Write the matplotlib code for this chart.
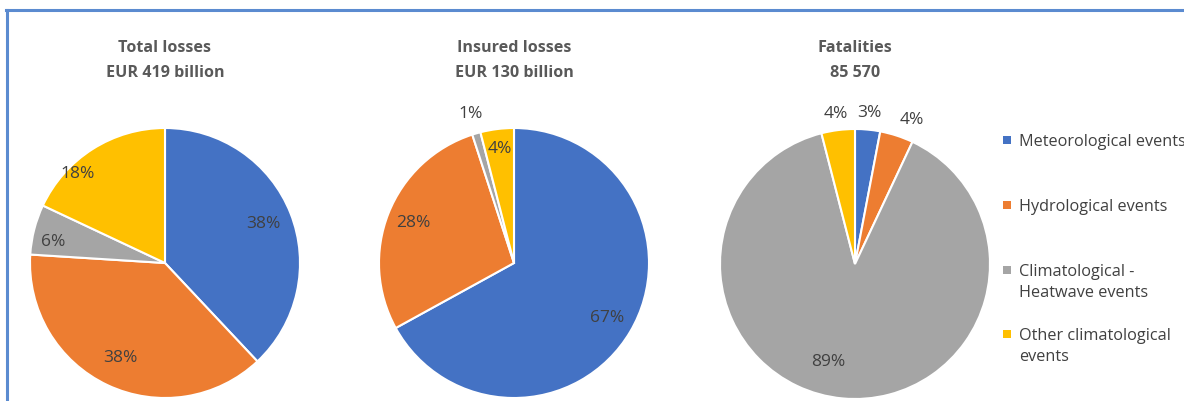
import numpy as np
import matplotlib
matplotlib.use("Agg")
import matplotlib.pyplot as plt
from matplotlib.patches import Rectangle
from matplotlib.lines import Line2D

plt.rcParams['font.family'] = ['Open Sans', 'DejaVu Sans']

categories = ["Meteorological events", "Hydrological events",
              "Climatological -\nHeatwave events", "Other climatological\nevents"]
colors = ["#4472C4", "#ED7D31", "#A5A5A5", "#FFC000"]

titles = ["Total losses\nEUR 419 billion", "Insured losses\nEUR 130 billion", "Fatalities\n85 570"]
total_losses = [38, 38, 6, 18]
insured_losses = [67, 28, 1, 4]
fatalities = [3, 4, 89, 4]
series = [total_losses, insured_losses, fatalities]

# label radial distances (fraction of radius) and angle nudges, styling only
label_dist = [[0.78, 0.78, 0.84, 0.92],
              [0.80, 0.80, 1.15, 0.85],
              [1.12, 1.15, 0.75, 1.12]]
label_angle_offset = [[0, 0, 3.5, 12],
                      [0, 0, 0, 0],
                      [0, -3.5, -10, 0]]

W, H = 1184, 401
fig = plt.figure(figsize=(W / 100, H / 100), dpi=100)
fig.patch.set_facecolor("white")

centers = [(165, 263), (514, 263), (855, 264)]
R = 135
title_y = [48, 73]
txt_col = "#404040"

for i, (vals, (cx, cy)) in enumerate(zip(series, centers)):
    ax = fig.add_axes([(cx - R) / W, (H - cy - R) / H, 2 * R / W, 2 * R / H])
    wedges, _ = ax.pie(vals, colors=colors, startangle=90, counterclock=False,
                       radius=1.0, wedgeprops=dict(edgecolor="white", linewidth=1.5))
    ax.set_xlim(-1, 1)
    ax.set_ylim(-1, 1)
    ax.set_aspect("auto")
    ax.axis("off")
    for j, (w, v) in enumerate(zip(wedges, vals)):
        ang = np.deg2rad((w.theta1 + w.theta2) / 2 + label_angle_offset[i][j])
        d = label_dist[i][j]
        ax.text(d * np.cos(ang), d * np.sin(ang), f"{v}%", ha="center", va="center",
                fontsize=12.5, color=txt_col, clip_on=False)
    t1, t2 = titles[i].split("\n")
    fig.text(cx / W, 1 - title_y[0] / H, t1, ha="center", va="center",
             fontsize=11.6, fontweight="bold", color="#595959")
    fig.text(cx / W, 1 - title_y[1] / H, t2, ha="center", va="center",
             fontsize=11.6, fontweight="bold", color="#595959")

# legend (manual, Excel-style with marker at first line)
leg_y = [140, 205, 270, 334]
for lab, col, y in zip(categories, colors, leg_y):
    fig.add_artist(Rectangle(((1007 - 4) / W, 1 - (y + 4) / H), 8 / W, 8 / H,
                             transform=fig.transFigure, facecolor=col, edgecolor="none"))
    fig.text(1019 / W, 1 - (y - 6) / H, lab, ha="left", va="top", fontsize=11.7,
             color=txt_col, linespacing=1.4)

# blue frame
fig.add_artist(Line2D([7 / W, 7 / W], [0, 1 - 10 / H], transform=fig.transFigure,
                      color="#5B8BD0", linewidth=2.2))
fig.add_artist(Line2D([6 / W, 1], [1 - 10 / H, 1 - 10 / H], transform=fig.transFigure,
                      color="#5B8BD0", linewidth=2.2))

fig.savefig("out.png", dpi=100, facecolor="white")
